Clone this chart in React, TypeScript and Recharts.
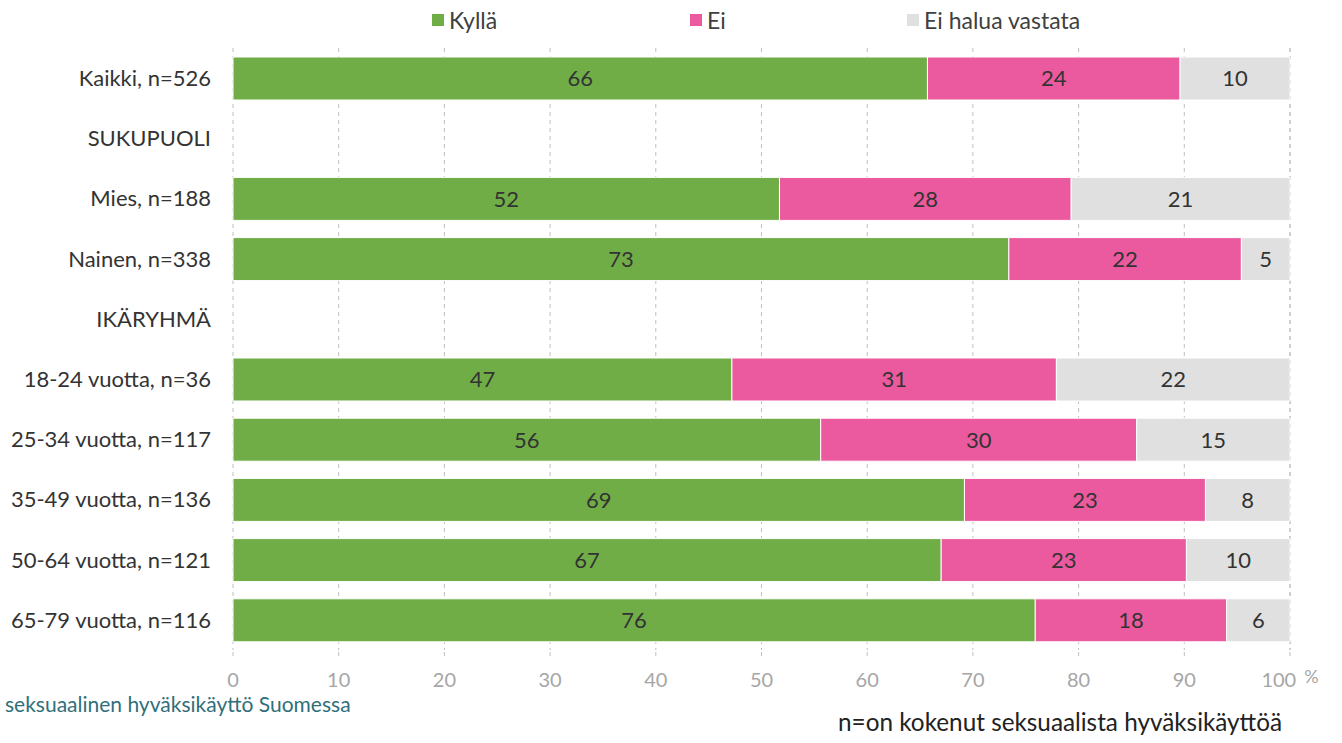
import { Bar, BarChart, CartesianGrid, LabelList, XAxis, YAxis } from "recharts";

const categories = [
  "Kaikki, n=526",
  "SUKUPUOLI",
  "Mies, n=188",
  "Nainen, n=338",
  "IKÄRYHMÄ",
  "18-24 vuotta, n=36",
  "25-34 vuotta, n=117",
  "35-49 vuotta, n=136",
  "50-64 vuotta, n=121",
  "65-79 vuotta, n=116",
];
const kylla = [65.7, null, 51.7, 73.4, null, 47.2, 55.6, 69.2, 67.0, 75.9];
const ei = [23.9, null, 27.6, 22.0, null, 30.7, 29.9, 22.8, 23.2, 18.1];
const eiHalua = [10.4, null, 20.7, 4.6, null, 22.1, 14.5, 8.0, 9.8, 6.0];
const xTicks = [0, 10, 20, 30, 40, 50, 60, 70, 80, 90, 100];

const FONT = "Lato, sans-serif";
const series = [
  { key: "kylla", name: "Kyllä", color: "#70ad47" },
  { key: "ei", name: "Ei", color: "#eb5a9e" },
  { key: "eiHalua", name: "Ei halua vastata", color: "#e0e0e0" },
];

const data = categories.map((name, i) => ({
  name,
  kylla: kylla[i],
  ei: ei[i],
  eiHalua: eiHalua[i],
}));

const fmt = (v: unknown) => (typeof v === "number" ? Math.round(v) : "");

function XTick(props: any) {
  const { x, y, payload } = props;
  return (
    <text x={x} y={y} textAnchor="middle" fill="#a6a6a6" fontSize={20} fontFamily={FONT} dy={25}>
      {payload.value}
      {payload.value === 100 && (
        <tspan fontSize={18} dx={8} dy={-4}>%</tspan>
      )}
    </text>
  );
}

export default function App() {
  const legendLefts = [432, 690, 907];
  return (
    <div style={{ position: "absolute", left: 0, top: 0, width: 1342, height: 743, background: "#fff", fontFamily: FONT }}>
      <BarChart
        width={1342}
        height={743}
        data={data}
        layout="vertical"
        margin={{ top: 48, right: 52, bottom: 63, left: 13 }}
      >
        <CartesianGrid horizontal={false} stroke="#bfbfbf" strokeDasharray="4 4" />
        <XAxis
          type="number"
          domain={[0, 100]}
          ticks={xTicks}
          axisLine={false}
          tickLine={{ stroke: "#bfbfbf", strokeDasharray: "4 4" }}
          tickSize={6}
          tick={<XTick />}
          tickMargin={6}
        />
        <YAxis
          type="category"
          dataKey="name"
          width={220}
          axisLine={false}
          tickLine={false}
          tickSize={0}
          tickMargin={22}
          tick={{ fill: "#333333", fontSize: 22, fontFamily: FONT }}
        />
        {series.map((s) => (
          <Bar
            key={s.key}
            dataKey={s.key}
            name={s.name}
            stackId="a"
            fill={s.color}
            stroke="#ffffff"
            strokeWidth={1}
            barSize={43}
            isAnimationActive={false}
          >
            <LabelList
              dataKey={s.key}
              position="center"
              formatter={fmt}
              fill="#333333"
              fontSize={22}
              fontFamily={FONT}
            />
          </Bar>
        ))}
      </BarChart>
      {series.map((s, i) => (
        <div
          key={s.key}
          style={{
            position: "absolute",
            left: legendLefts[i],
            top: 6,
            display: "flex",
            alignItems: "center",
            fontSize: 23,
            color: "#404040",
            lineHeight: "28px",
          }}
        >
          <span style={{ width: 12, height: 12, background: s.color, marginRight: 5, display: "inline-block" }} />
          {s.name}
        </div>
      ))}
      <div style={{ position: "absolute", left: 5, top: 690, fontSize: 21, lineHeight: "28px", color: "#2f6f7b" }}>
        seksuaalinen hyväksikäyttö Suomessa
      </div>
      <div style={{ position: "absolute", left: 838, top: 707, fontSize: 24.3, lineHeight: "30px", color: "#222222" }}>
        n=on kokenut seksuaalista hyväksikäyttöä
      </div>
    </div>
  );
}
